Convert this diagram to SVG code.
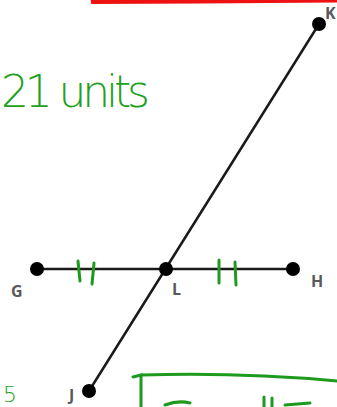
<svg xmlns="http://www.w3.org/2000/svg" width="337" height="407" viewBox="0 0 337 407">
<style>
.seg{stroke:#1a1a1a;stroke-width:2.5;stroke-linecap:round;fill:none}
.dot{fill:#000}
.lbl{font-family:"Open Sans","Liberation Sans",sans-serif;font-weight:bold;font-size:16px;fill:#5a5a5a}
.ink{stroke:#1e9a1e;stroke-width:3;stroke-linecap:round;fill:none}
.hand{font-family:"DejaVu Sans","Liberation Sans",sans-serif;font-weight:200;fill:#22a022}
</style>
<rect width="337" height="407" fill="#fff"/>
<g id="connectors">
<line class="seg" x1="37" y1="269" x2="293" y2="269"/>
<line class="seg" x1="319" y1="24" x2="89" y2="391"/>
</g>
<g id="node-G"><circle class="dot" cx="37" cy="269" r="7"/><text class="lbl" x="11" y="297">G</text></g>
<g id="node-L"><circle class="dot" cx="166" cy="269" r="7"/><text class="lbl" x="172" y="295">L</text></g>
<g id="node-H"><circle class="dot" cx="293" cy="269" r="7"/><text class="lbl" x="311" y="287">H</text></g>
<g id="node-K"><circle class="dot" cx="319" cy="24" r="7"/><text class="lbl" x="325" y="19">K</text></g>
<g id="node-J"><circle class="dot" cx="89" cy="391" r="7"/><text class="lbl" x="69" y="401">J</text></g>
<g id="annotations">
<path class="ink" d="M78 261 L80 281 M94 263 L92 284 M219 260 L219 283 M235 262 L236 285"/>
<path d="M92 -4 L93 2 L200 1.5 L337 0.5" stroke="#ee1111" stroke-width="4" fill="none"/>
<text class="hand" x="1" y="107" font-size="44" textLength="149" lengthAdjust="spacing">21 units</text>
<text class="hand" x="3" y="402" font-size="22">5</text>
<path class="ink" d="M133 377 L141 375 L141 410 M141 375 Q240 372 337 381"/>
<path class="ink" d="M165 405 Q178 400 190 403 M264 397 L264 410 M272 398 L272 410 M285 405 L310 403"/>
</g>
</svg>
